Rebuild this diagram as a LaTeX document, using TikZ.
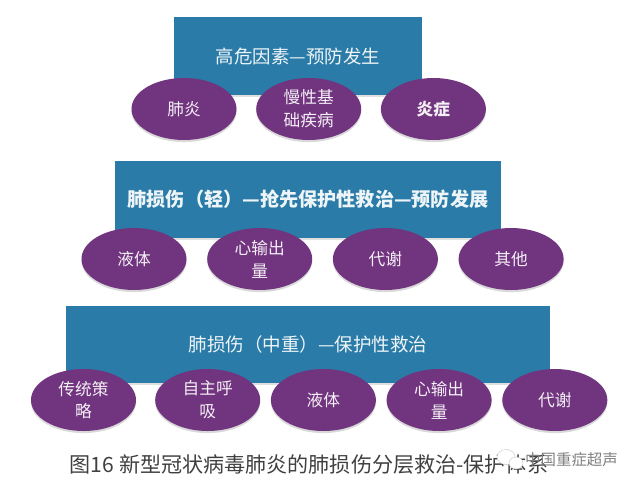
\documentclass[tikz,border=0pt]{standalone}
\usepackage{fontspec}
\setmainfont{Noto Sans CJK SC}
\usepackage{xcolor}
\usetikzlibrary{shapes.geometric, shadows, positioning}
\definecolor{layerblue}{HTML}{2A7BA7}
\definecolor{itempurple}{HTML}{71347F}

\begin{document}
\begin{tikzpicture}[
    node distance=0.38cm,
    every node/.style={font=\fontsize{9.5pt}{12pt}\selectfont},
    layer/.style={rectangle, fill=layerblue, text=white!92!layerblue, inner sep=0pt, align=center,
      drop shadow={shadow xshift=0pt, shadow yshift=-1pt, opacity=0.25}},
    item/.style={ellipse, fill=itempurple, text=white!92!itempurple, inner sep=0pt, minimum width=2.1cm, minimum height=1.24cm,
      align=center, drop shadow={shadow xshift=0pt, shadow yshift=-1.2pt, opacity=0.3}},
    bubble/.style={ellipse, fill=white, draw=black!25, very thin, inner sep=0pt},
]
\useasboundingbox (0,0) rectangle (12.8,-9.76);

% top layer
\node[layer, minimum width=4.96cm, minimum height=1.56cm, font=\fontsize{10.5pt}{12pt}\selectfont] (risk) at (5.96,-1.12) {高危因素—预防发生};
\node[item] (risk1) at (3.68,-2.18) {肺炎};
\node[item, right=of risk1] (risk2) {慢性基\\[1pt]础疾病};
\node[item, right=of risk2, font=\fontsize{9.5pt}{12pt}\selectfont\bfseries] (risk3) {炎症};

% middle layer
\node[layer, minimum width=7.72cm, minimum height=1.54cm, font=\fontsize{10.9pt}{12pt}\selectfont\bfseries] (mild) at (6.16,-3.99) {肺损伤（轻）—抢先保护性救治—预防发展};
\node[item] (mild1) at (2.68,-5.18) {液体};
\node[item, right=0.4cm of mild1] (mild2) {心输出\\[1pt]量};
\node[item, right=0.4cm of mild2] (mild3) {代谢};
\node[item, right=0.4cm of mild3] (mild4) {其他};

% bottom layer
\node[layer, minimum width=9.68cm, minimum height=1.54cm, font=\fontsize{10.55pt}{12pt}\selectfont] (severe) at (6.16,-6.89) {肺损伤（中重）—保护性救治};
\node[item] (severe1) at (1.67,-8.0) {传统策\\[1pt]略};
\node[item, right=0.37cm of severe1] (severe2) {自主呼\\[1pt]吸};
\node[item, right=0.2cm of severe2] (severe3) {液体};
\node[item, right=0.2cm of severe3] (severe4) {心输出\\[1pt]量};
\node[item, right=0.2cm of severe4] (severe5) {代谢};

% caption and mark
\node[font=\fontsize{12pt}{14pt}\selectfont, text=black!75, inner sep=0pt] (caption) at (6.18,-9.3) {图16 新型冠状病毒肺炎的肺损伤分层救治-保护体系};
\node[bubble, minimum width=0.36cm, minimum height=0.3cm] (bubble1) at (10.12,-9.14) {};
\node[bubble, minimum width=0.28cm, minimum height=0.24cm] (bubble2) at (10.32,-9.26) {};
\node[font=\fontsize{8.8pt}{10pt}\selectfont, text=black!50, inner sep=0pt] (mark) at (11.43,-9.2) {中国重症超声};
\end{tikzpicture}
\end{document}
